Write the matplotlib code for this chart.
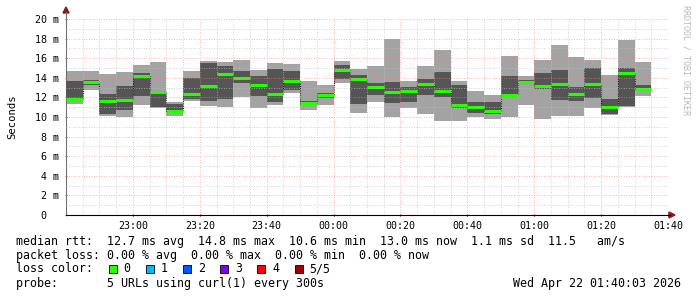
import matplotlib
matplotlib.use("Agg")
import matplotlib.pyplot as plt
from matplotlib.patches import Rectangle, Polygon
from matplotlib.lines import Line2D
import numpy as np

# ---------------- data ----------------
interval_min = 5  # minutes per column, axis starts at 22:40
ping_min = [11.35, 12.8, 10.1, 10.0, 11.2, 10.9, 10.1, 11.6, 11.1, 11.05,
            12.0, 10.95, 11.25, 12.5, 10.7, 11.25, 13.5, 10.45, 11.5, 9.95,
            10.95, 10.35, 9.6, 9.6, 9.95, 9.75, 9.95, 11.25, 9.8, 10.1,
            10.1, 10.95, 10.25, 11.0, 12.1]
ping_lo = [11.7, 13.3, 10.3, 10.7, 12.1, 11.05, 10.4, 11.85, 11.65, 11.85,
           13.5, 12.1, 11.55, 12.75, 11.2, 11.9, 13.85, 11.3, 12.2, 11.45,
           11.55, 12.2, 12.0, 10.9, 10.45, 10.3, 12.1, 13.4, 12.9, 11.7,
           11.6, 11.95, 10.3, 11.1, 12.7]
median = [11.85, 13.6, 11.6, 11.7, 14.15, 12.5, 10.6, 12.35, 13.2, 14.35,
          13.95, 13.3, 12.35, 13.65, 11.45, 12.2, 14.8, 13.9, 13.1, 12.6,
          12.7, 13.35, 12.7, 11.25, 11.0, 10.6, 12.25, 13.55, 13.15, 13.35,
          12.35, 13.4, 11.0, 14.45, 12.9]
ping_hi = [13.7, 13.8, 12.3, 13.2, 14.45, 12.7, 11.3, 14.0, 15.5, 15.2,
           14.7, 14.2, 14.9, 14.7, 11.65, 12.4, 15.3, 14.3, 13.45, 13.6,
           13.05, 13.85, 14.55, 13.25, 11.55, 11.55, 14.2, 13.75, 14.5, 14.8,
           13.1, 15.05, 11.85, 14.95, 13.25]
ping_max = [14.7, 14.7, 14.4, 14.6, 15.3, 15.6, 11.5, 14.7, 15.7, 15.6,
            15.8, 14.8, 15.55, 15.45, 13.7, 13.3, 15.7, 14.9, 15.2, 17.95,
            13.7, 15.2, 16.85, 13.7, 12.65, 12.25, 16.2, 14.2, 15.8, 17.35,
            16.1, 15.8, 14.3, 17.85, 15.6]

x_tick_pos = [20, 40, 60, 80, 100, 120, 140, 160, 180]
x_tick_labels = ["23:00", "23:20", "23:40", "00:00", "00:20", "00:40",
                 "01:00", "01:20", "01:40"]
y_ticks = [0, 2, 4, 6, 8, 10, 12, 14, 16, 18, 20]
y_tick_labels = ["0  ", "2 m", "4 m", "6 m", "8 m", "10 m", "12 m", "14 m",
                 "16 m", "18 m", "20 m"]

legend_rtt = "median rtt:  12.7 ms avg  14.8 ms max  10.6 ms min  13.0 ms now  1.1 ms sd  11.5   am/s"
legend_loss = "packet loss: 0.00 % avg  0.00 % max  0.00 % min  0.00 % now"
loss_labels = ["0", "1", "2", "3", "4", "5/5"]
loss_colors = ["#26ff00", "#00b8ff", "#0059ff", "#7e00ff", "#ff0000", "#a00000"]
probe_text = "probe:       5 URLs using curl(1) every 300s"
date_text = "Wed Apr 22 01:40:03 2026"
watermark = "RRDTOOL / TOBI OETIKER"

# ---------------- figure ----------------
W, H = 697, 297
MONO = "DejaVu Sans Mono"
fig = plt.figure(figsize=(W / 100, H / 100), dpi=100)
fig.patch.set_facecolor("white")


def fx(x):
    return x / W


def fy(y):
    return 1 - y / H


x0, x1, ytop, ybot = 66, 668, 19, 215
ax = fig.add_axes([fx(x0), fy(ybot), (x1 - x0) / W, (ybot - ytop) / H])
ax.set_facecolor("white")
ax.set_xlim(0, 180)
ax.set_ylim(0, 20)

n = len(median)
lefts = np.arange(n) * interval_min
pmin = np.array(ping_min)
plo = np.array(ping_lo)
pmed = np.array(median)
phi = np.array(ping_hi)
pmax = np.array(ping_max)

ax.bar(lefts, pmax - pmin, bottom=pmin, width=interval_min, align="edge",
       color="#a3a3a3", linewidth=0, zorder=2)
ax.bar(lefts, phi - plo, bottom=plo, width=interval_min, align="edge",
       color="#555555", linewidth=0, zorder=3)

xs = np.append(lefts, lefts[-1] + interval_min)
ys = np.append(pmed, pmed[-1])
ax.step(xs, ys, where="post", color="#111111", lw=0.8, ls=(0, (1, 1)), zorder=4)
ax.hlines(pmed, lefts, lefts + interval_min, colors="#26ff00", lw=2.2, zorder=5)

# grid
for v in range(1, 21):
    major = v % 2 == 0
    ax.axhline(v, color="#ff8080" if major else "#c0c0c0",
               alpha=0.8 if major else 0.9, lw=0.6, ls=(0, (1, 2)), zorder=6)
for m in range(5, 181, 5):
    major = m % 20 == 0
    ax.axvline(m, color="#ff8080" if major else "#c0c0c0",
               alpha=0.8 if major else 0.9, lw=0.6, ls=(0, (1, 2)), zorder=6)

for s in ["top", "right"]:
    ax.spines[s].set_visible(False)
ax.spines["left"].set_color("#707070")
ax.spines["left"].set_linewidth(0.8)
ax.spines["bottom"].set_color("#000000")
ax.spines["bottom"].set_linewidth(0.8)

ax.set_xticks(x_tick_pos)
ax.set_xticklabels(x_tick_labels, fontfamily=MONO, fontsize=7.2)
ax.set_yticks(y_ticks)
ax.set_yticklabels(y_tick_labels, fontfamily=MONO, fontsize=7.2)
ax.tick_params(axis="y", length=2, direction="inout", color="#707070", pad=4)
ax.tick_params(axis="x", length=2, direction="inout", color="#000000", pad=3)

ax.set_ylabel("Seconds", fontfamily=MONO, fontsize=7.6, labelpad=12.5)

# axis extensions and arrows
fig.add_artist(Line2D([fx(66), fx(66)], [fy(19), fy(12)], color="#707070", lw=0.8,
                      transform=fig.transFigure))
fig.add_artist(Line2D([fx(668), fx(670)], [fy(215), fy(215)], color="#000000", lw=0.8,
                      transform=fig.transFigure))
fig.add_artist(Polygon([[fx(66), fy(7)], [fx(63), fy(13)], [fx(69), fy(13)]],
                       closed=True, color="#8b1a1a", transform=fig.transFigure))
fig.add_artist(Polygon([[fx(675), fy(215)], [fx(669), fy(212)], [fx(669), fy(218)]],
                       closed=True, color="#8b1a1a", transform=fig.transFigure))

# watermark
fig.text(fx(686), fy(5), watermark, rotation=270, ha="center", va="top",
         fontfamily=MONO, fontsize=6, color="#b8b8b8")

# legend
fs = 8.4
fig.text(fx(16), fy(241.5), legend_rtt, ha="left", va="center", fontfamily=MONO, fontsize=fs)
fig.text(fx(16), fy(255), legend_loss, ha="left", va="center", fontfamily=MONO, fontsize=fs)
fig.text(fx(16), fy(269), "loss color:", ha="left", va="center", fontfamily=MONO, fontsize=fs)
for i, (lab, col) in enumerate(zip(loss_labels, loss_colors)):
    sx = 108.5 + i * 37.2
    fig.add_artist(Rectangle((fx(sx), fy(273)), 8 / W, 8 / H, facecolor=col,
                             edgecolor="black", lw=0.6, transform=fig.transFigure))
    fig.text(fx(sx + 15), fy(269), lab, ha="left", va="center", fontfamily=MONO, fontsize=fs)
fig.text(fx(16), fy(283), probe_text, ha="left", va="center", fontfamily=MONO, fontsize=fs)
fig.text(fx(681), fy(283), date_text, ha="right", va="center", fontfamily=MONO, fontsize=fs)

fig.savefig("out.png", dpi=100, facecolor="white")
